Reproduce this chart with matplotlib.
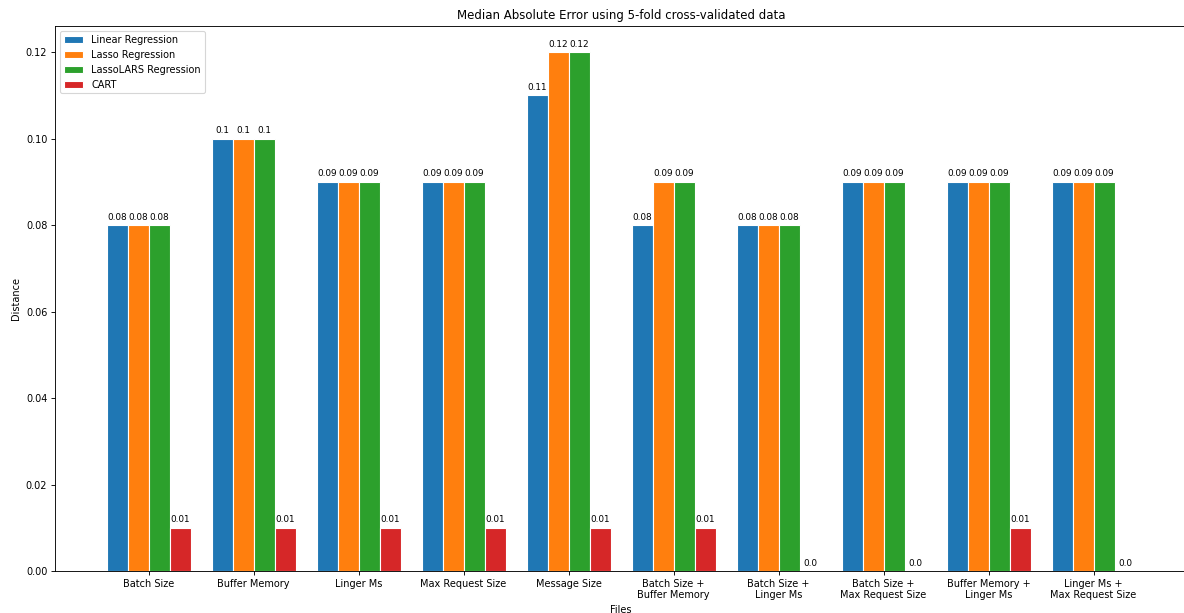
import numpy as np
from matplotlib import pyplot as plt

files = ['Batch Size', 'Buffer Memory', 'Linger Ms', 'Max Request Size', 'Message Size',
         'Batch Size +\nBuffer Memory', 'Batch Size +\nLinger Ms', 'Batch Size +\nMax Request Size',
         'Buffer Memory +\nLinger Ms', 'Linger Ms +\nMax Request Size']
linear = [0.08, 0.1, 0.09, 0.09, 0.11, 0.08, 0.08, 0.09, 0.09, 0.09]
lasso = [0.08, 0.1, 0.09, 0.09, 0.12, 0.09, 0.08, 0.09, 0.09, 0.09]
lasso_lars = [0.08, 0.1, 0.09, 0.09, 0.12, 0.09, 0.08, 0.09, 0.09, 0.09]
cart = [0.01, 0.01, 0.01, 0.01, 0.01, 0.01, 0.0, 0.0, 0.01, 0.0]

models = ['Linear Regression', 'Lasso Regression', 'LassoLARS Regression', 'CART']
colors = ['#1f77b4', '#ff7f0e', '#2ca02c', '#d62728']

plt.rcParams['font.size'] = 8.8

bar_width = 0.2
fig = plt.figure(figsize=(14.8, 7.6625), dpi=80)
ax = fig.add_axes([0.0465, 0.0685, 0.956, 0.889])

r = np.arange(len(files))
for i, (vals, name, c) in enumerate(zip([linear, lasso, lasso_lars, cart], models, colors)):
    pos = r + i * bar_width
    bars = ax.bar(pos, vals, width=bar_width, color=c, edgecolor='white', label=name)
    for b, v in zip(bars, vals):
        ax.text(b.get_x() + b.get_width() / 2, b.get_height() + 0.0008, str(round(v, 2)),
                ha='center', va='bottom', fontsize=8)

ax.set_xticks(r + 1.5 * bar_width)
ax.set_xticklabels(files)
ax.set_xlabel('Files')
ax.set_ylabel('Distance')
ax.set_title('Median Absolute Error using 5-fold cross-validated data')
ax.legend(loc='upper left')

fig.savefig('out.png', dpi=80)
